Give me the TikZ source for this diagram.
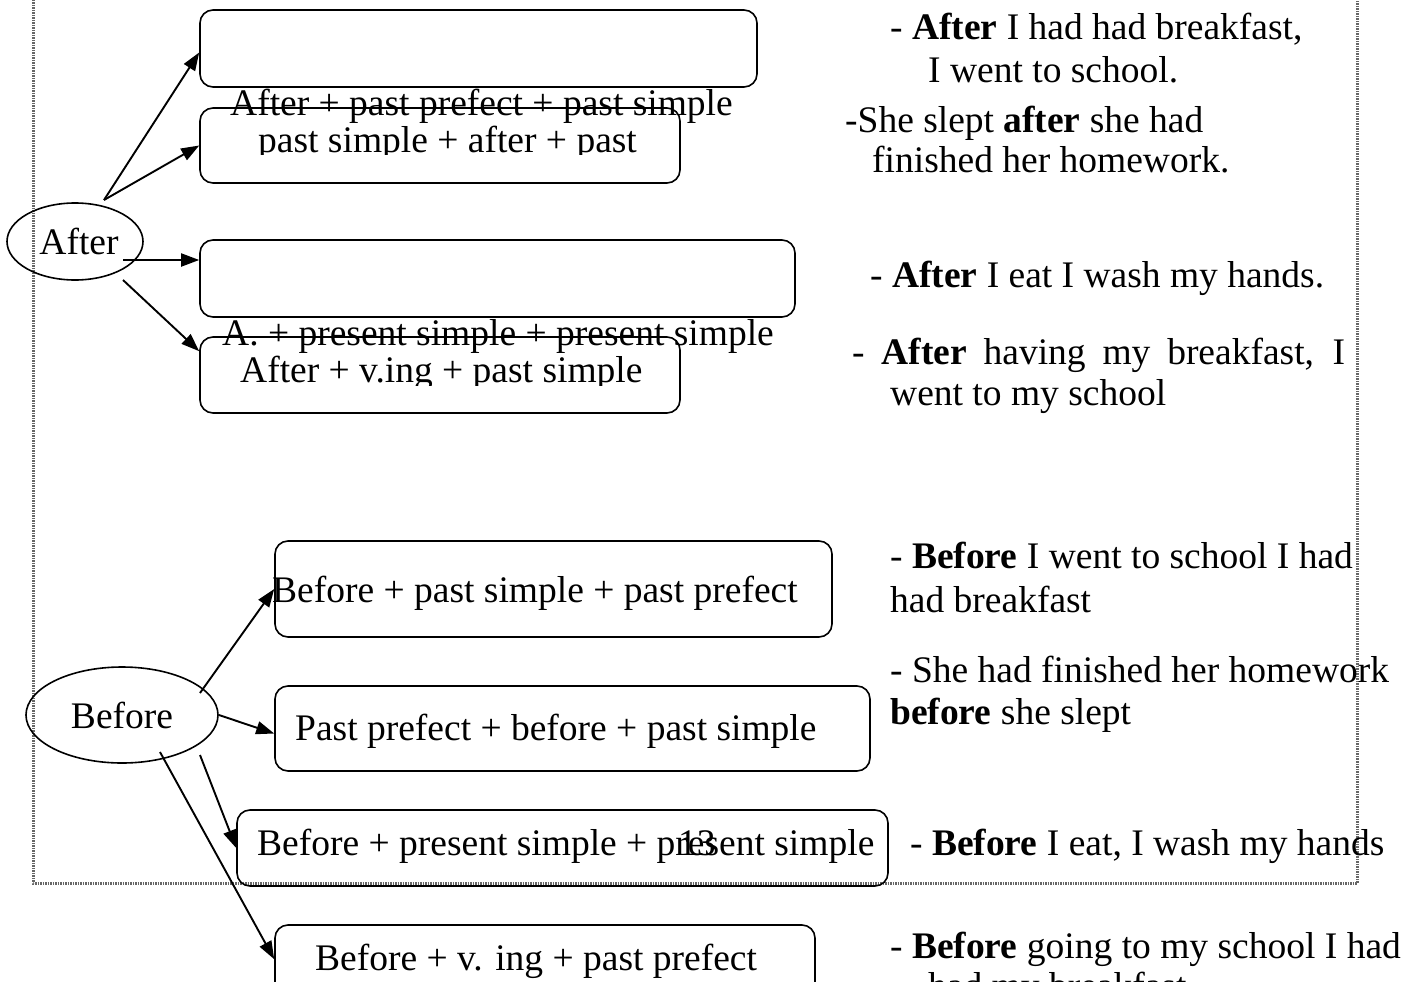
\documentclass[tikz,border=0pt]{standalone}
\usepackage{fontspec}
\setmainfont{Liberation Serif}
\usetikzlibrary{arrows.meta,shapes.geometric}

\tikzset{
  rbox/.style={draw, rounded corners=13pt, line width=1.6pt, inner sep=0pt},
  oval/.style={draw, ellipse, line width=1.6pt, inner sep=0pt, font=\fontsize{37.5}{42}\selectfont},
  txt/.style={anchor=base west, inner sep=0pt, font=\fontsize{37.5}{42}\selectfont},
  arr/.style={-{Triangle[length=18pt,width=13pt]}, line width=1.9pt},
  frame/.style={black!60, line width=3pt, dash pattern=on 1.5pt off 1pt}
}

\begin{document}
\begin{tikzpicture}[x=1pt,y=-1pt]
    \useasboundingbox (0,0) rectangle (1414,982);
    \draw[frame] (33,0) -- (33,883) -- (1357,883) -- (1357,0);

    % After part
    \node[oval, minimum width=136pt, minimum height=77pt] (after) at (75,241.5) {\hspace{8pt}After};
    \node[rbox, minimum width=557pt, minimum height=77pt] (a1) at (478.5,48.5) {};
    \node[rbox, minimum width=480pt, minimum height=75pt] (a2) at (440,145.5) {};
    \node[rbox, minimum width=595pt, minimum height=77pt] (a3) at (497.5,278.5) {};
    \node[rbox, minimum width=480pt, minimum height=76pt] (a4) at (440,375) {};

    \node[txt] (t1) at (230,115) {After + past prefect + past simple};
    \begin{scope}
        \clip (200,100) rectangle (700,154);
        \node[txt] (t2) at (258,152) {past simple + after + past};
    \end{scope}
    \node[txt] (t3) at (222,345) {A. + present simple + present simple};
    \begin{scope}
        \clip (200,340) rectangle (700,385);
        \node[txt] (t4) at (240,382) {After + v.ing + past simple};
    \end{scope}

    \coordinate (s1) at ([shift={(29,-41.5)}]after.center);
    \coordinate (s3) at ([shift={(48,18.5)}]after.center);
    \coordinate (s4) at ([shift={(48,38.5)}]after.center);
    \draw[arr] (s1) -- ([yshift=-4pt]a1.west);
    \draw[arr] (s1) -- (a2.west);
    \draw[arr] (s3) -- (s3 -| a3.west);
    \draw[arr] (s4) -- ([yshift=-15pt]a4.north west);

    % After examples
    \node[txt] (r1) at (890,40) {- \textbf{After} I had had breakfast,};
    \node[txt] (r2) at (928,82) {I went to school.};
    \node[txt] (r3) at (845,132) {-She slept \textbf{after} she had};
    \begin{scope}
        \clip (860,140) rectangle (1300,175);
        \node[txt] (r4) at (872,172) {finished her homework.};
    \end{scope}
    \node[txt] (r5) at (870,287) {- \textbf{After} I eat I wash my hands.};
    \node[txt] (r6) at (852,364) {\makebox[493pt][s]{- \textbf{After} having my breakfast, I}};
    \node[txt] (r7) at (890,405) {went to my school};

    % Before part
    \node[oval, minimum width=192pt, minimum height=96pt] (before) at (122,715) {Before\hspace{14pt}};
    \node[rbox, minimum width=557pt, minimum height=96pt] (b1) at (553.5,589) {};
    \node[rbox, minimum width=595pt, minimum height=85pt] (b2) at (572.5,728.5) {};
    \node[rbox, minimum width=651pt, minimum height=76pt] (b3) at (562.5,848) {};
    \node[rbox, minimum width=540pt, minimum height=85pt] (b4) at (545,967.5) {};

    \node[txt] (t5) at (272,602) {Before + past simple + past prefect};
    \node[txt] (t6) at (295,740) {Past prefect + before + past simple};
    \node[txt] (t7) at (257,855) {Before + present simple + present simple};
    \node[txt] (pg) at (678,855) {13};
    \node[txt] (t8) at (315,970) {Before + v. ing + past prefect};

    \draw[arr] ([shift={(78,-22)}]before.center) -- (b1.west);
    \draw[arr] (before.east) -- ([yshift=-5pt]b2.west);
    \draw[arr] ([shift={(78,40)}]before.center) -- (b3.west);
    \draw[arr] ([shift={(38,37)}]before.center) -- ([yshift=-35pt]b4.north west);

    % Before examples
    \node[txt] (r8) at (890,568) {- \textbf{Before} I went to school I had};
    \node[txt] (r9) at (890,612) {had breakfast};
    \node[txt] (r10) at (890,682) {- She had finished her homework};
    \node[txt] (r11) at (890,724) {\textbf{before} she slept};
    \node[txt] (r12) at (910,855) {- \textbf{Before} I eat, I wash my hands};
    \node[txt] (r13) at (890,958) {- \textbf{Before} going to my school I had};
    \node[txt] (r14) at (928,998) {had my breakfast};
\end{tikzpicture}
\end{document}
